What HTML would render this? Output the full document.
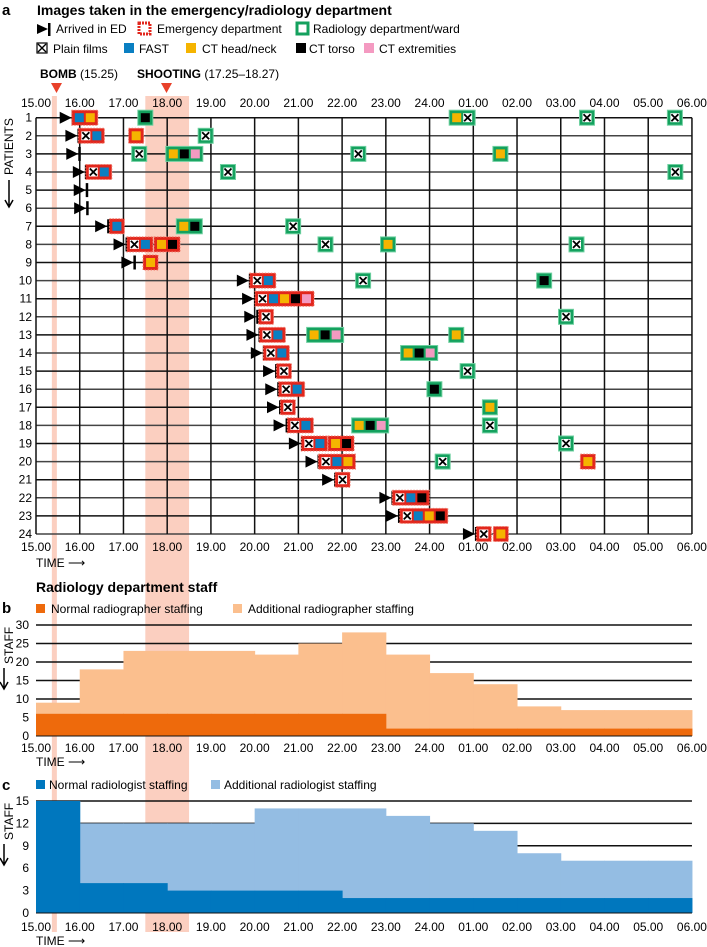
<!DOCTYPE html>
<html><head><meta charset="utf-8"><style>
html,body{margin:0;padding:0;background:#fff;}
svg{display:block;font-family:"Liberation Sans",sans-serif;}
</style></head><body>
<svg id="chart" width="707" height="947" viewBox="0 0 707 947" xmlns="http://www.w3.org/2000/svg">
<g id="bg"></g><g id="grid"></g><g id="marks"></g><g id="labels"></g>
</svg>
<script>
// ---------- data ----------
const hourLabels = ["15.00","16.00","17.00","18.00","19.00","20.00","21.00","22.00","23.00","24.00","01.00","02.00","03.00","04.00","05.00","06.00"];
const arrivals = [15.84,15.97,15.99,16.14,16.16,16.17,16.65,17.07,17.25,19.89,20.01,20.06,20.11,20.21,20.49,20.54,20.58,20.73,21.08,21.46,21.84,23.15,23.30,25.06];
// [patientRow, location (E=emergency, R=radiology), time of first image, images]
const boxes = [
 [1,"E",15.99,"BO"],[1,"R",17.5,"K"],[1,"R",24.62,"OX"],[1,"R",27.6,"X"],[1,"R",29.61,"X"],
 [2,"E",16.14,"XB"],[2,"E",17.29,"O"],[2,"R",18.88,"X"],
 [3,"R",17.36,"X"],[3,"R",18.14,"OKP"],[3,"R",22.37,"X"],[3,"R",25.62,"O"],
 [4,"E",16.31,"XB"],[4,"R",19.39,"X"],[4,"R",29.62,"X"],
 [7,"E",16.85,"B"],[7,"R",18.38,"OK"],[7,"R",20.88,"X"],
 [8,"E",17.25,"XB"],[8,"E",17.87,"OK"],[8,"R",21.62,"X"],[8,"R",23.05,"O"],[8,"R",27.36,"X"],
 [9,"E",17.62,"O"],
 [10,"E",20.06,"XB"],[10,"R",22.48,"X"],[10,"R",26.62,"K"],
 [11,"E",20.18,"XBOKP"],
 [12,"E",20.26,"X"],[12,"R",27.12,"X"],
 [13,"E",20.28,"XB"],[13,"R",21.36,"OKP"],[13,"R",24.61,"O"],
 [14,"E",20.37,"XB"],[14,"R",23.51,"OKP"],
 [15,"E",20.67,"X"],[15,"R",24.87,"X"],
 [16,"E",20.72,"XB"],[16,"R",24.11,"K"],
 [17,"E",20.76,"X"],[17,"R",25.38,"O"],
 [18,"E",20.92,"XB"],[18,"R",22.39,"OKP"],[18,"R",25.38,"X"],
 [19,"E",21.24,"XB"],[19,"E",21.85,"OK"],[19,"R",27.12,"X"],
 [20,"E",21.63,"XBO"],[20,"R",24.30,"X"],[20,"E",27.62,"O"],
 [21,"E",22.01,"X"],
 [22,"E",23.32,"XBK"],
 [23,"E",23.49,"XBOK"],
 [24,"E",25.24,"X"],[24,"E",25.63,"O"]
];
const radiographerTotal = [9,18,23,23,23,22,25,28,22,17,14,8,7,7,7];
const radiographerNormal = [6,6,6,6,6,6,6,6,2,2,2,2,2,2,2];
const radiologistTotal = [15,12,12,12,12,14,14,14,13,12,11,8,7,7,7];
const radiologistNormal = [15,4,4,3,3,3,3,2,2,2,2,2,2,2,2];
const staffTicksB = [0,5,10,15,20,25,30];
const staffTicksC = [0,3,6,9,12,15];
const bombTime = 15.42, shootStart = 17.5, shootEnd = 18.5;

// ---------- scales ----------
const X0=36, PXH=43.73;
const x = h => X0 + PXH*(h-15);
const rowY = r => 117.7 + (r-1)*18.1;
const yB = v => 736 - v*3.7;
const yC = v => 913 - v*7.47;
const NS="http://www.w3.org/2000/svg";
function mk(parent, tag, attrs, text){
  const e=document.createElementNS(NS,tag);
  for(const k in attrs) e.setAttribute(k,attrs[k]);
  if(text!==undefined) e.textContent=text;
  document.getElementById(parent).appendChild(e);
  return e;
}
const COL={B:"#0a7fc2",O:"#f5b400",K:"#000",P:"#f49ac1",E:"#e2261c",R:"#14a15e"};
function icon(parent,t,cx,cy){
  if(t==="X"){
    const r=mk(parent,"rect",{x:cx-4.5,y:cy-4.5,width:9,height:9,fill:"#fff"});
    
    
    mk(parent,"path",{d:`M${cx-3.5} ${cy-3.5}L${cx+3.5} ${cy+3.5}M${cx+3.5} ${cy-3.5}L${cx-3.5} ${cy+3.5}`,stroke:"#000","stroke-width":1.8});
  } else {
    const r=mk(parent,"rect",{x:cx-4.5,y:cy-4.5,width:9,height:9,fill:COL[t]});
    
    
  }
}

// ---------- bands ----------
let b1=mk("bg","rect",{x:x(bombTime)-2.5,y:96,width:5,height:836,fill:"#fbcfc0"});


let b2=mk("bg","rect",{x:x(shootStart),y:96,width:x(shootEnd)-x(shootStart),height:836,fill:"#fbcfc0"});



// ---------- panel a grid ----------
for(let r=1;r<=24;r++){
  const l=mk("grid","line",{x1:X0,x2:x(30),y1:rowY(r),y2:rowY(r),stroke:r%2?"#111":"#444","stroke-width":1.5});
  
  
  const t=mk("labels","text",{x:32,y:rowY(r)+4,"font-size":12,"text-anchor":"end"},String(r));
  
  
}
hourLabels.forEach((lab,i)=>{
  const h=15+i;
  const l=mk("grid","line",{x1:x(h),x2:x(h),y1:rowY(1),y2:rowY(24),stroke:"#111","stroke-width":1.5});
  
  
  const t1=mk("labels","text",{x:x(h),y:107,"font-size":12,"text-anchor":"middle"},lab);
  
  
  const t2=mk("labels","text",{x:x(h),y:551,"font-size":12,"text-anchor":"middle"},lab);
  
  
  const t3=mk("labels","text",{x:x(h),y:752,"font-size":12,"text-anchor":"middle"},lab);
  
  
  const t4=mk("labels","text",{x:x(h),y:931,"font-size":12,"text-anchor":"middle"},lab);
  
  
});

// ---------- arrivals ----------
arrivals.forEach((t,i)=>{
  const cx=x(t), cy=rowY(i+1);
  const p=mk("marks","path",{d:`M${cx-13} ${cy-6}L${cx-1} ${cy}L${cx-13} ${cy+6}Z`,fill:"#000"});
  
  
  mk("marks","rect",{x:cx-1,y:cy-7,width:2.5,height:14,fill:"#000"});
});

// ---------- boxes ----------
boxes.forEach(b=>{
  const [row,loc,t,imgs]=b;
  const cy=rowY(row), cx0=x(t), step=11;
  const w=(imgs.length-1)*step+15;
  const r=mk("marks","rect",{x:cx0-7.5,y:cy-7.5,width:w,height:15,fill:COL[loc],stroke:loc==="E"?"#f07a6a":"#6fd0a0","stroke-width":1,"stroke-dasharray":loc==="E"?"1.5 1.5":"none"});
  
  
  [...imgs].forEach((c,j)=>icon("marks",c,cx0+j*step,cy));
});

// ---------- staff panels ----------
function staffPanel(total,normal,ticks,ys,cTot,cNorm,prefix){
  ticks.forEach(v=>{
    if(v>0){
      const l=mk("grid","line",{x1:X0,x2:x(30),y1:ys(v),y2:ys(v),stroke:"#111","stroke-width":1.5});
      
      
    }
    const t=mk("labels","text",{x:29,y:ys(v)+4,"font-size":12,"text-anchor":"end"},String(v));
    
    
  });
  total.forEach((v,i)=>{
    const r=mk("marks","rect",{x:x(15+i),y:ys(v),width:PXH+0.5,height:ys(0)-ys(v),fill:cTot});
    
    
  });
  normal.forEach((v,i)=>{
    const r=mk("marks","rect",{x:x(15+i),y:ys(v),width:PXH+0.5,height:ys(0)-ys(v),fill:cNorm});
    
    
  });
  mk("marks","line",{x1:X0,x2:x(30),y1:ys(0),y2:ys(0),stroke:"#111","stroke-width":1});
}
staffPanel(radiographerTotal,radiographerNormal,staffTicksB,yB,"#fbbf8e","#ee6a0c","radiographer");
staffPanel(radiologistTotal,radiologistNormal,staffTicksC,yC,"#94bde3","#0077be","radiologist");
</script>

<svg width="0" height="0" style="position:absolute"></svg>
<div style="position:absolute;left:0;top:0;width:707px;height:947px;pointer-events:none;font-family:'Liberation Sans',sans-serif;">
</div>
<script>
// static labels
const L=document.getElementById("labels");
function st(tag,attrs,txt,name){
  const e=document.createElementNS("http://www.w3.org/2000/svg",tag);
  for(const k in attrs)e.setAttribute(k,attrs[k]);
  if(txt!==undefined)e.textContent=txt;
  
  
  L.appendChild(e);return e;
}
st("text",{x:2,y:15,"font-size":15,"font-weight":"bold"},"a","panel-a-letter");
st("text",{x:37,y:15,"font-size":14,"font-weight":"bold"},"Images taken in the emergency/radiology department","panel-a-title");
// legend row 1
st("path",{d:"M37 24L48 29L37 34Z",fill:"#000"},undefined,"legend-arrival-icon");
st("rect",{x:48,y:23,width:2.5,height:13,fill:"#000"},undefined,"legend-arrival-bar");
st("text",{x:56,y:33,"font-size":12},"Arrived in ED","legend-arrived-text");
st("rect",{x:139,y:23,width:11,height:11,fill:"#fff",stroke:"#e2261c","stroke-width":3,"stroke-dasharray":"2 1"},undefined,"legend-ed-icon");
st("text",{x:157,y:33,"font-size":12},"Emergency department","legend-ed-text");
st("rect",{x:297,y:23,width:11,height:11,fill:"#fff",stroke:"#14a15e","stroke-width":3},undefined,"legend-radiology-icon");
st("text",{x:313,y:33,"font-size":12},"Radiology department/ward","legend-radiology-text");
// legend row 2
st("rect",{x:37,y:43,width:10,height:10,fill:"#fff",stroke:"#000","stroke-width":1.2},undefined,"legend-plain-icon");
st("path",{d:"M38 44L46 52M46 44L38 52",stroke:"#000","stroke-width":1.4},undefined,"legend-plain-x");
st("text",{x:53,y:53,"font-size":12},"Plain films","legend-plain-text");
st("rect",{x:124,y:43,width:10,height:10,fill:"#0a7fc2"},undefined,"legend-fast-icon");
st("text",{x:139,y:53,"font-size":12},"FAST","legend-fast-text");
st("rect",{x:186,y:43,width:10,height:10,fill:"#f5b400"},undefined,"legend-ct-head-icon");
st("text",{x:202,y:53,"font-size":12},"CT head/neck","legend-ct-head-text");
st("rect",{x:296,y:43,width:10,height:10,fill:"#000"},undefined,"legend-ct-torso-icon");
st("text",{x:309,y:53,"font-size":12},"CT torso","legend-ct-torso-text");
st("rect",{x:364,y:43,width:10,height:10,fill:"#f49ac1"},undefined,"legend-ct-ext-icon");
st("text",{x:379,y:53,"font-size":12},"CT extremities","legend-ct-ext-text");
// events
const b=st("text",{x:40,y:78,"font-size":12},"","bomb-label");
b.innerHTML='<tspan font-weight="bold">BOMB</tspan> (15.25)';
const s=st("text",{x:137,y:78,"font-size":12},"","shooting-label");
s.innerHTML='<tspan font-weight="bold">SHOOTING</tspan> (17.25–18.27)';
st("path",{d:"M51 83L62 83L56.5 93Z",fill:"#e8412a"},undefined,"bomb-marker");
st("path",{d:"M161 83L172 83L166.5 93Z",fill:"#e8412a"},undefined,"shooting-marker");
// axis titles
st("text",{x:0,y:0,"font-size":12,transform:"translate(13,175) rotate(-90)"},"PATIENTS","y-axis-title-patients");
st("path",{d:"M9 180V206M5 200L9 207L13 200",stroke:"#000","stroke-width":1.5,fill:"none"},undefined,"patients-arrow");
st("text",{x:36,y:567,"font-size":12},"TIME ⟶","time-axis-title-a");
st("text",{x:36,y:592,"font-size":14,"font-weight":"bold"},"Radiology department staff","panel-b-title");
st("text",{x:2,y:613,"font-size":15,"font-weight":"bold"},"b","panel-b-letter");
st("rect",{x:36,y:604,width:9,height:9,fill:"#ee6a0c"},undefined,"legend-normal-radiographer-icon");
st("text",{x:51,y:613,"font-size":12},"Normal radiographer staffing","legend-normal-radiographer-text");
st("rect",{x:233,y:604,width:9,height:9,fill:"#fbbf8e"},undefined,"legend-additional-radiographer-icon");
st("text",{x:248,y:613,"font-size":12},"Additional radiographer staffing","legend-additional-radiographer-text");
st("text",{x:0,y:0,"font-size":12,transform:"translate(13,664) rotate(-90)"},"STAFF","y-axis-title-b");
st("path",{d:"M4 668V688M0 682L4 689L8 682",stroke:"#000","stroke-width":1.5,fill:"none"},undefined,"staff-b-arrow");
st("text",{x:36,y:766,"font-size":12},"TIME ⟶","time-axis-title-b");
st("text",{x:2,y:790,"font-size":15,"font-weight":"bold"},"c","panel-c-letter");
st("rect",{x:36,y:780,width:9,height:9,fill:"#0077be"},undefined,"legend-normal-radiologist-icon");
st("text",{x:49,y:789,"font-size":12},"Normal radiologist staffing","legend-normal-radiologist-text");
st("rect",{x:211,y:780,width:9,height:9,fill:"#94bde3"},undefined,"legend-additional-radiologist-icon");
st("text",{x:224,y:789,"font-size":12},"Additional radiologist staffing","legend-additional-radiologist-text");
st("text",{x:0,y:0,"font-size":12,transform:"translate(13,840) rotate(-90)"},"STAFF","y-axis-title-c");
st("path",{d:"M4 844V864M0 858L4 865L8 858",stroke:"#000","stroke-width":1.5,fill:"none"},undefined,"staff-c-arrow");
st("text",{x:36,y:945,"font-size":12},"TIME ⟶","time-axis-title-c");
</script>
</body></html>
